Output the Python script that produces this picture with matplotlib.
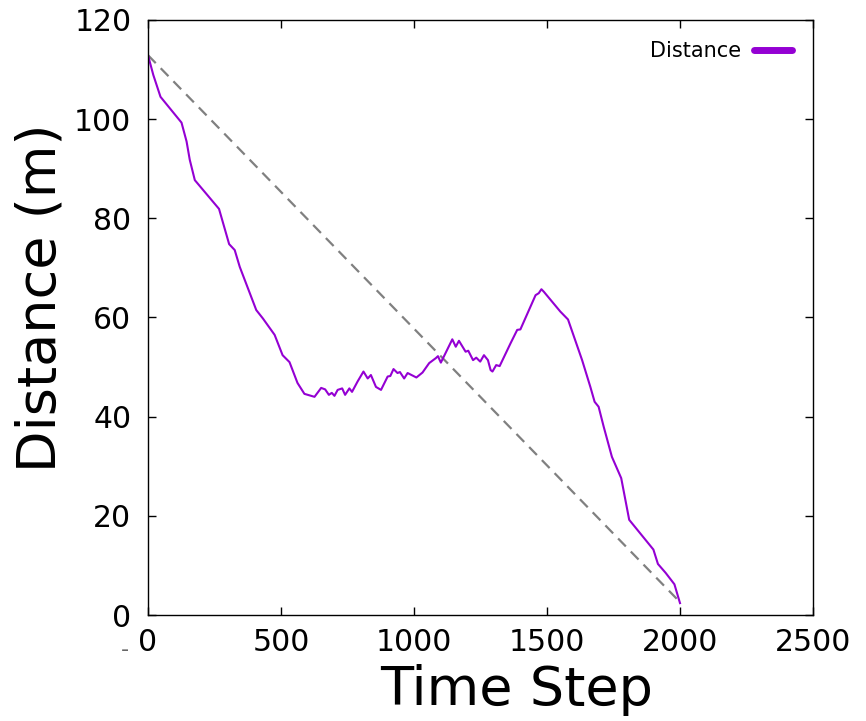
import numpy as np
import matplotlib
matplotlib.use('Agg')
import matplotlib.pyplot as plt

# Distance to target per time step
steps = [0, 20, 47, 126, 145, 157, 176, 267, 305, 326, 345, 407, 432, 476, 506, 532,
         562, 588, 626, 651, 666, 680, 691, 701, 713, 730, 741, 757, 767, 788, 810,
         826, 838, 857, 876, 901, 911, 923, 938, 947, 963, 976, 1009, 1032, 1057,
         1082, 1090, 1101, 1144, 1157, 1169, 1194, 1204, 1222, 1234, 1249, 1263,
         1278, 1288, 1295, 1309, 1322, 1363, 1388, 1400, 1457, 1469, 1479, 1488,
         1550, 1579, 1632, 1663, 1679, 1694, 1713, 1744, 1779, 1809, 1900, 1917,
         1946, 1979, 2000]
distance = [112.9, 108.9, 104.5, 99.3, 95.5, 91.8, 87.7, 81.9, 74.8, 73.6, 70.2,
            61.5, 59.8, 56.5, 52.4, 51.0, 46.8, 44.6, 44.0, 45.8, 45.5, 44.4, 44.8,
            44.2, 45.4, 45.7, 44.4, 45.7, 45.0, 47.1, 49.1, 47.7, 48.4, 46.0, 45.4,
            48.1, 48.2, 49.6, 48.8, 49.0, 47.7, 48.8, 47.9, 48.9, 50.8, 51.8, 52.2,
            50.9, 55.6, 54.1, 55.3, 53.1, 53.3, 51.4, 51.9, 51.1, 52.4, 51.4, 49.4,
            49.1, 50.4, 50.2, 54.8, 57.5, 57.6, 64.5, 64.9, 65.7, 65.2, 61.2, 59.6,
            51.4, 46.0, 43.0, 42.0, 38.0, 31.9, 27.6, 19.2, 13.2, 10.3, 8.5, 6.2, 2.4]

# straight-line reference
ref_x = [0, 2000]
ref_y = [112.9, 2.6]

x_ticks = [0, 500, 1000, 1500, 2000, 2500]
y_ticks = [0, 20, 40, 60, 80, 100, 120]

fig = plt.figure(figsize=(8.66, 7.21), dpi=100)
ax = fig.add_axes([0.1709, 0.147, 0.7679, 0.8253])

ax.plot(ref_x, ref_y, color='#808080', lw=1.6, dashes=(5, 3.2))
ax.plot(steps, distance, color='#9400d3', lw=1.5, label='Distance')

ax.set_xlim(0, 2500)
ax.set_ylim(0, 120)
ax.set_xticks(x_ticks)
ax.set_yticks(y_ticks)
ax.set_xticklabels([str(t) for t in x_ticks])
ax.tick_params(direction='in', length=6, width=1, top=True, right=True,
               labelsize=21.5, pad=9)
ax.tick_params(axis='y', pad=12)
for s in ax.spines.values():
    s.set_linewidth(1)

ax.set_xlabel('Time Step', fontsize=39)
ax.xaxis.set_label_coords(0.555, -0.083, transform=ax.transAxes)
ax.xaxis.label.set_va('top')
ax.set_ylabel('Distance (m)', fontsize=39)
ax.yaxis.set_label_coords(-0.161, 0.534, transform=ax.transAxes)
ax.yaxis.label.set_va('center')

# stray dash next to the x=0 label
fig.text(125 / 866, 1 - 650 / 721, '-', fontsize=16, color='#666666',
         ha='center', va='center')

leg = ax.legend(loc='upper right', markerfirst=False, frameon=False,
                fontsize=15, handlelength=1.85, borderaxespad=0.6,
                handletextpad=0.6)
for ln in leg.get_lines():
    ln.set_linewidth(5)
    ln.set_solid_capstyle('round')

fig.savefig('out.png', dpi=100)
